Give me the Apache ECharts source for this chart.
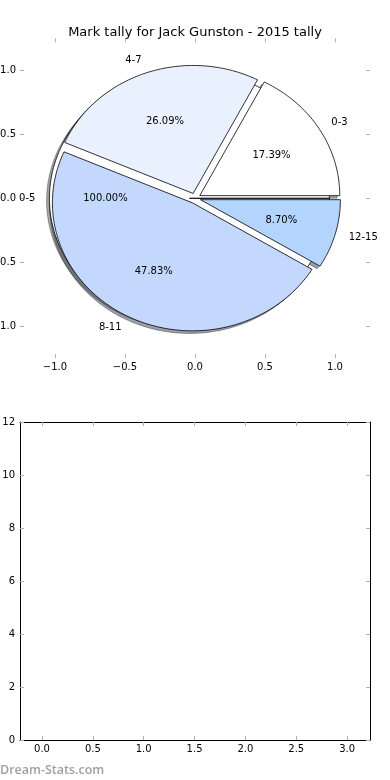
<!DOCTYPE html>
<html><head><meta charset="utf-8">
<script src="https://cdn.jsdelivr.net/npm/echarts@6/dist/echarts.min.js"></script>
<style>html,body{margin:0;padding:0;background:#fff}#c{width:390px;height:780px}</style>
</head><body><div id="c"></div>
<script>
// ---- data ----
const chartTitle = 'Mark tally for Jack Gunston - 2015 tally';
const totalCategories = ['0-5'];
const totalValues = [23];
const categories = ['0-3', '4-7', '8-11', '12-15'];
const values = [4, 6, 11, 2];
const pieTicks = [-1, -0.5, 0, 0.5, 1];
const barXTicks = [0, 0.5, 1, 1.5, 2, 2.5, 3];
const barYTicks = [0, 2, 4, 6, 8, 10, 12];
const watermark = 'Dream-Stats.com';

// ---- style ----
const totalColors = ['#ffffff'];
const sliceColors = ['#ffffff', '#eaf1fe', '#c4d8fd', '#b3d4fd'];
const EXPLODE = 0.04, LABEL_D = 1.1, PCT_D = 0.6, SH = -0.02;
const FONT = 'DejaVu Sans';

function layout(cats, vals, colors) {
  const sum = vals.reduce((a, b) => a + b, 0);
  let a = 0; const out = [];
  vals.forEach((v, i) => {
    const span = 360 * v / sum;
    const mid = (a + span / 2) * Math.PI / 180;
    out.push({cat: cats[i], pct: 100 * v / sum, a0: a, a1: a + span,
      cx: EXPLODE * Math.cos(mid), cy: EXPLODE * Math.sin(mid), mid, color: colors[i]});
    a += span;
  });
  return out;
}
const wedges = layout(totalCategories, totalValues, totalColors)
  .concat(layout(categories, values, sliceColors));

function pts(w, api, ox, oy) {
  const p = [api.coord([w.cx + ox, w.cy + oy])];
  const n = Math.max(2, Math.ceil(w.a1 - w.a0));
  for (let k = 0; k <= n; k++) {
    const t = (w.a0 + (w.a1 - w.a0) * k / n) * Math.PI / 180;
    p.push(api.coord([w.cx + ox + Math.cos(t), w.cy + oy + Math.sin(t)]));
  }
  return p;
}
function shade(hex) {
  const r = parseInt(hex.slice(1, 3), 16), g = parseInt(hex.slice(3, 5), 16), b = parseInt(hex.slice(5, 7), 16);
  return `rgba(${Math.round(r * .3)},${Math.round(g * .3)},${Math.round(b * .3)},0.5)`;
}
const wData = wedges.map((w, i) => [w.cx, w.cy, i]);

function fmt(v) { const s = Math.abs(v).toFixed(1); return v < 0 ? '\u2212' + s : s; }
const tick = (vals) => ({show: true, inside: true, length: 4, customValues: vals, lineStyle: {color: '#b0b0b0', width: 1}});
const lab = (vals, f, m) => ({customValues: vals, formatter: f, margin: m, color: '#000', fontSize: 10, fontFamily: FONT});
const noLine = {show: false, onZero: false};
const frame = {show: true, onZero: false, lineStyle: {color: '#000', width: 1}};

const option = {
  animation: false,
  title: {text: chartTitle, left: 'center', top: 21, textStyle: {fontFamily: FONT, fontSize: 13, fontWeight: 'normal', color: '#000'}},
  grid: [
    {left: 20, top: 38.3, width: 350, height: 320, containLabel: false, outerBoundsMode: 'none'},
    {left: 20, top: 422, width: 350, height: 318, containLabel: false, outerBoundsMode: 'none'}
  ],
  xAxis: [
    {gridIndex: 0, type: 'value', min: -1.25, max: 1.25, position: 'bottom', axisLine: noLine, splitLine: {show: false}, axisTick: tick(pieTicks), axisLabel: lab(pieTicks, fmt, 4)},
    {gridIndex: 0, type: 'value', min: -1.25, max: 1.25, position: 'top', axisLine: noLine, splitLine: {show: false}, axisTick: tick(pieTicks), axisLabel: {show: false}},
    {gridIndex: 1, type: 'value', min: -0.216, max: 3.225, position: 'bottom', axisLine: frame, splitLine: {show: false}, axisTick: tick(barXTicks), axisLabel: lab(barXTicks, fmt, 4)},
    {gridIndex: 1, type: 'value', min: -0.216, max: 3.225, position: 'top', axisLine: frame, splitLine: {show: false}, axisTick: tick(barXTicks), axisLabel: {show: false}}
  ],
  yAxis: [
    {gridIndex: 0, type: 'value', min: -1.25, max: 1.25, position: 'left', axisLine: noLine, splitLine: {show: false}, axisTick: tick(pieTicks), axisLabel: lab(pieTicks, fmt, 4)},
    {gridIndex: 0, type: 'value', min: -1.25, max: 1.25, position: 'right', axisLine: noLine, splitLine: {show: false}, axisTick: tick(pieTicks), axisLabel: {show: false}},
    {gridIndex: 1, type: 'value', min: 0, max: 12, interval: 2, position: 'left', axisLine: frame, splitLine: {show: false}, axisTick: tick(barYTicks), axisLabel: lab(barYTicks, v => String(v), 5)},
    {gridIndex: 1, type: 'value', min: 0, max: 12, interval: 2, position: 'right', axisLine: frame, splitLine: {show: false}, axisTick: tick(barYTicks), axisLabel: {show: false}}
  ],
  graphic: [{type: 'text', left: 0, top: 763.5, style: {text: watermark, fill: '#a0a0a0', fontSize: 12.5, fontWeight: 600, fontFamily: 'Open Sans'}}],
  series: [
    {type: 'custom', xAxisIndex: 0, yAxisIndex: 0, data: wData, z: 1, silent: true,
      renderItem: (p, api) => {
        const w = wedges[p.dataIndex];
        const c = shade(w.color);
        return {type: 'polygon', shape: {points: pts(w, api, SH, SH)}, style: {fill: c, stroke: c, lineWidth: 1}};
      }},
    {type: 'custom', xAxisIndex: 0, yAxisIndex: 0, data: wData, z: 2, silent: true,
      renderItem: (p, api) => {
        const w = wedges[p.dataIndex];
        return {type: 'polygon', shape: {points: pts(w, api, 0, 0)}, style: {fill: w.color, stroke: '#000', lineWidth: 0.8}};
      }},
    {type: 'custom', xAxisIndex: 0, yAxisIndex: 0, data: wData, z: 3, silent: true,
      renderItem: (p, api) => {
        const w = wedges[p.dataIndex];
        const lx = w.cx + LABEL_D * Math.cos(w.mid), ly = w.cy + LABEL_D * Math.sin(w.mid);
        const px = w.cx + PCT_D * Math.cos(w.mid), py = w.cy + PCT_D * Math.sin(w.mid);
        const l = api.coord([lx, ly]), q = api.coord([px, py]);
        return {type: 'group', children: [
          {type: 'text', x: l[0], y: l[1], style: {text: w.cat, fill: '#000', fontSize: 10, fontFamily: FONT, align: lx > 0 ? 'left' : 'right', verticalAlign: 'middle'}},
          {type: 'text', x: q[0], y: q[1], style: {text: w.pct.toFixed(2) + '%', fill: '#000', fontSize: 10, fontFamily: FONT, align: 'center', verticalAlign: 'middle'}}
        ]};
      }}
  ]
};
const chart = echarts.init(document.getElementById('c'), null, {renderer: 'canvas'});
chart.setOption(option);
</script></body></html>
